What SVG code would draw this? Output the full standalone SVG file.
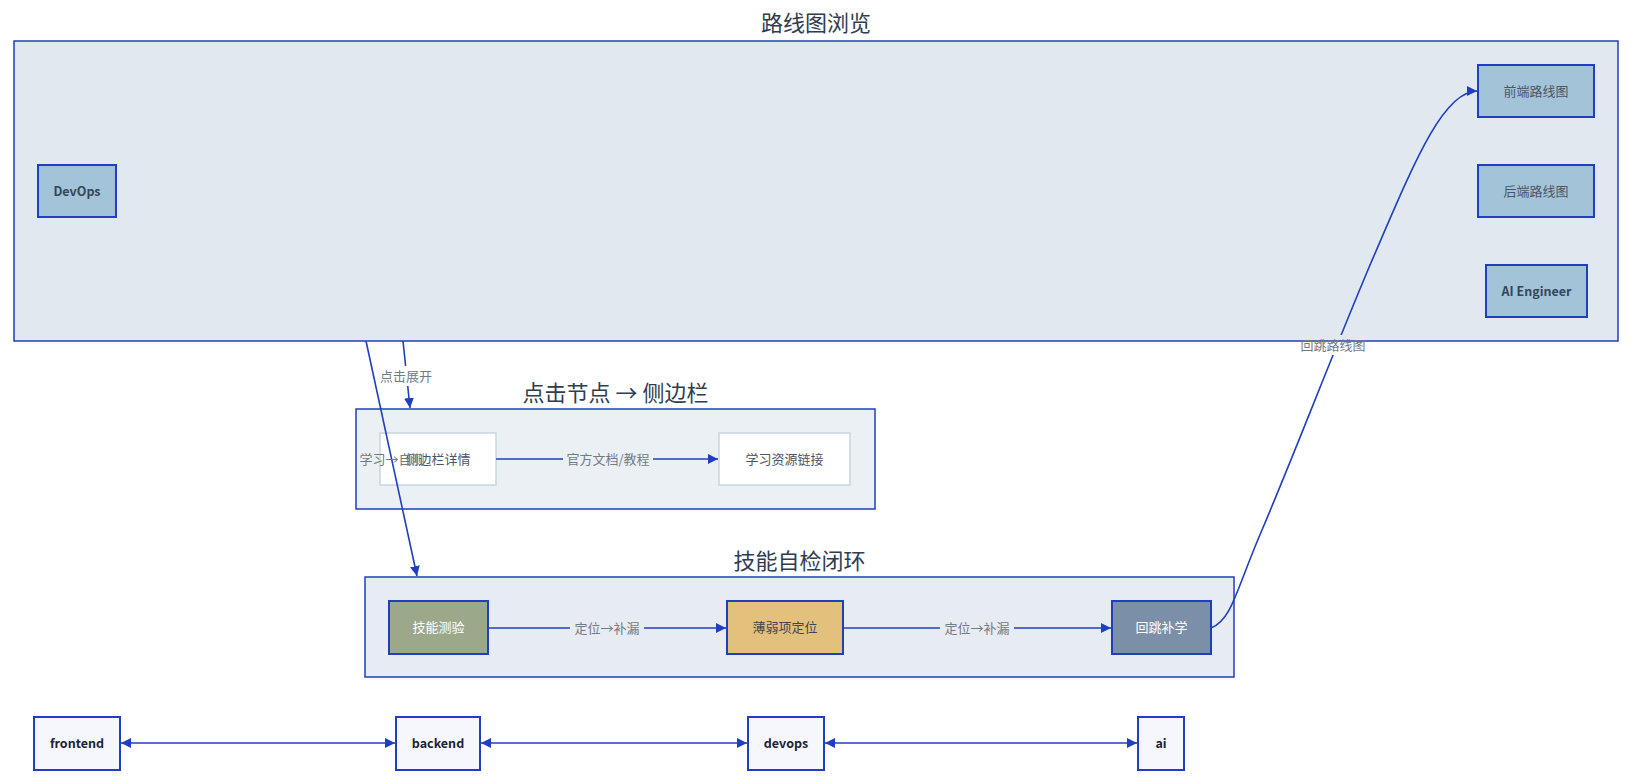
<svg xmlns="http://www.w3.org/2000/svg" width="1634" height="784" viewBox="0 0 1634 784">
  <style>
    text { font-family: "Noto Sans CJK SC", "Noto Sans", sans-serif; }
    .cluster { stroke: #1f3fbf; stroke-width: 1.5; }
    .ctitle { font-size: 22px; fill: #2f3d50; text-anchor: middle; }
    .rm { fill: #a3c4d8; stroke: #1f3fbf; stroke-width: 2; }
    .rmt { font-size: 13px; fill: #4a5566; text-anchor: middle; }
    .rmb { font-size: 12.5px; fill: #33475b; font-weight: bold; text-anchor: middle; }
    .sb { fill: #ffffff; stroke: #c9d6e0; stroke-width: 1.5; }
    .sbt { font-size: 13px; fill: #4a5566; text-anchor: middle; }
    .sk { stroke: #1f3fbf; stroke-width: 2; }
    .bt { fill: #f6f7fc; stroke: #1f3fbf; stroke-width: 2; }
    .btt { font-size: 12.5px; fill: #1e2233; font-weight: bold; text-anchor: middle; }
    .edge { fill: none; stroke: #1f3fbf; stroke-width: 1.6; }
    .elabel { font-size: 13px; fill: #737a85; text-anchor: middle; }
  </style>
  <defs>
    <marker id="arrow" viewBox="0 0 10 10" refX="10" refY="5" markerUnits="userSpaceOnUse" markerWidth="10" markerHeight="10" orient="auto-start-reverse">
      <path d="M0,0 L10,5 L0,10 z" fill="#1f3fbf"/>
    </marker>
    <mask id="labelmask" maskUnits="userSpaceOnUse" x="0" y="0" width="1634" height="784">
      <rect x="0" y="0" width="1634" height="784" fill="#fff"/>
      <rect x="378" y="366" width="56" height="20" fill="#000"/>
      <rect x="563" y="449" width="90" height="20" fill="#000"/>
      <rect x="570" y="618" width="74" height="20" fill="#000"/>
      <rect x="940" y="618" width="74" height="20" fill="#000"/>
      <rect x="1299" y="335" width="68" height="20" fill="#000"/>
    </mask>
  </defs>

  <g id="clusters">
    <g id="cluster-roadmap">
      <rect class="cluster" x="14" y="41" width="1604" height="300" fill="#e1e8f0"/>
      <text class="ctitle" x="816" y="31">路线图浏览</text>
    </g>
    <g id="cluster-sidebar">
      <rect class="cluster" x="356" y="409" width="519" height="100" fill="#ebf0f4"/>
      <text class="ctitle" x="615.5" y="401">点击节点 → 侧边栏</text>
    </g>
    <g id="cluster-skills">
      <rect class="cluster" x="365" y="577" width="869" height="100" fill="#e7ecf2"/>
      <text class="ctitle" x="799.5" y="569">技能自检闭环</text>
    </g>
  </g>

  <g id="nodes">
    <g id="node-devops-main">
      <rect class="rm" x="38" y="165" width="78" height="52"/>
      <text class="rmb" x="77" y="195.5">DevOps</text>
    </g>
    <g id="node-frontend-map">
      <rect class="rm" x="1478" y="65" width="116" height="52"/>
      <text class="rmt" x="1536" y="95.5">前端路线图</text>
    </g>
    <g id="node-backend-map">
      <rect class="rm" x="1478" y="165" width="116" height="52"/>
      <text class="rmt" x="1536" y="195.5">后端路线图</text>
    </g>
    <g id="node-ai-engineer">
      <rect class="rm" x="1486" y="265" width="101" height="52"/>
      <text class="rmb" x="1536.5" y="295.5">AI Engineer</text>
    </g>
    <g id="node-sidebar-detail">
      <rect class="sb" x="380" y="433" width="116" height="52"/>
      <text class="sbt" x="438" y="463.5">侧边栏详情</text>
    </g>
    <g id="node-resources">
      <rect class="sb" x="719" y="433" width="131" height="52"/>
      <text class="sbt" x="784.5" y="463.5">学习资源链接</text>
    </g>
    <g id="node-quiz">
      <rect class="sk" x="389" y="601" width="99" height="53" fill="#9ba88a"/>
      <text class="sbt" x="438.5" y="632" fill="#ffffff" style="fill:#ffffff">技能测验</text>
    </g>
    <g id="node-weak">
      <rect class="sk" x="727" y="601" width="116" height="53" fill="#e3c07c"/>
      <text class="sbt" x="785" y="632" style="fill:#3f4650">薄弱项定位</text>
    </g>
    <g id="node-back">
      <rect class="sk" x="1112" y="601" width="99" height="53" fill="#7b90a8"/>
      <text class="sbt" x="1161.5" y="632" style="fill:#ffffff">回跳补学</text>
    </g>
    <g id="node-frontend">
      <rect class="bt" x="34" y="717" width="86" height="53"/>
      <text class="btt" x="77" y="748">frontend</text>
    </g>
    <g id="node-backend">
      <rect class="bt" x="396" y="717" width="84" height="53"/>
      <text class="btt" x="438" y="748">backend</text>
    </g>
    <g id="node-devops">
      <rect class="bt" x="748" y="717" width="76" height="53"/>
      <text class="btt" x="786" y="748">devops</text>
    </g>
    <g id="node-ai">
      <rect class="bt" x="1138" y="717" width="46" height="53"/>
      <text class="btt" x="1161" y="748">ai</text>
    </g>
  </g>

  <g id="connectors">
    <g mask="url(#labelmask)">
      <path class="edge" d="M403,341 L410,408" marker-end="url(#arrow)"/>
      <path class="edge" d="M366,341 L417,576" marker-end="url(#arrow)"/>
      <path class="edge" d="M496,459 L718,459" marker-end="url(#arrow)"/>
      <path class="edge" d="M488,628 L726,628" marker-end="url(#arrow)"/>
      <path class="edge" d="M843,628 L1111,628" marker-end="url(#arrow)"/>
      <path class="edge" d="M1211,628 C1232,620 1236,590 1262,530 C1300,440 1330,360 1370,265 C1412,168 1442,91 1477,91" marker-end="url(#arrow)"/>
      <path class="edge" d="M121,743 L395,743" marker-start="url(#arrow)" marker-end="url(#arrow)"/>
      <path class="edge" d="M481,743 L747,743" marker-start="url(#arrow)" marker-end="url(#arrow)"/>
      <path class="edge" d="M825,743 L1137,743" marker-start="url(#arrow)" marker-end="url(#arrow)"/>
    </g>
    <g id="connector-labels">
      <text class="elabel" x="406" y="380.5">点击展开</text>
      <text class="elabel" x="392" y="463.5">学习→自测</text>
      <text class="elabel" x="608" y="463.5">官方文档/教程</text>
      <text class="elabel" x="607" y="632.5">定位→补漏</text>
      <text class="elabel" x="977" y="632.5">定位→补漏</text>
      <text class="elabel" x="1333" y="349.5">回跳路线图</text>
    </g>
  </g>
</svg>
